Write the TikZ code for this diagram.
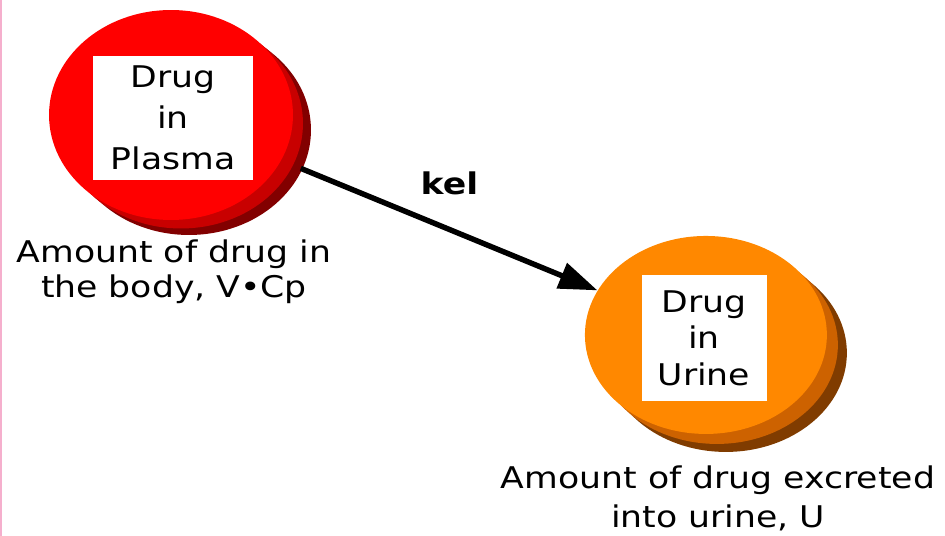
\documentclass[tikz,border=0pt]{standalone}
\usepackage{fontspec}
\newfontfamily\lblfont[FakeStretch=1.16]{DejaVu Sans}
\usetikzlibrary{shapes.geometric, positioning, arrows.meta, shadows}

\definecolor{plasmared}{RGB}{255,0,0}
\definecolor{plasmamid}{RGB}{200,0,0}
\definecolor{plasmadark}{RGB}{130,0,0}
\definecolor{urineorange}{RGB}{255,136,0}
\definecolor{urinemid}{RGB}{205,98,0}
\definecolor{urinedark}{RGB}{128,60,0}
\definecolor{edgepink}{RGB}{245,175,205}

\begin{document}
\begin{tikzpicture}[x=0.02cm, y=-0.02cm,
    font=\lblfont\fontsize{17}{20}\selectfont,
    disc/.style={ellipse, inner sep=0pt},
    textbox/.style={fill=white, align=center, inner sep=0pt},
    caption/.style={align=center, inner sep=0pt, anchor=north}]
    \useasboundingbox (0,0) rectangle (945,536);
    \draw[edgepink, line width=1.2pt] (1,0) -- (1,536);

    \node[disc, fill=plasmared, minimum width=4.88cm, minimum height=4.2cm,
        drop shadow={shadow xshift=.36cm, shadow yshift=-.3cm, fill=plasmadark, opacity=1},
        drop shadow={shadow xshift=.2cm, shadow yshift=-.17cm, fill=plasmamid, opacity=1}]
        (plasma) at (171,115) {};
    \node[disc, fill=urineorange, minimum width=4.84cm, minimum height=3.96cm,
        drop shadow={shadow xshift=.4cm, shadow yshift=-.36cm, fill=urinedark, opacity=1},
        drop shadow={shadow xshift=.22cm, shadow yshift=-.2cm, fill=urinemid, opacity=1},
        on grid, below right=4.4cm and 10.7cm of plasma] (urine) {};

    \node[textbox, minimum width=3.2cm, minimum height=2.48cm,
        font=\lblfont\fontsize{17}{23.5}\selectfont]
        (plasmabox) at (173,118) {Drug\\in\\Plasma};
    \node[textbox, minimum width=2.5cm, minimum height=2.54cm,
        font=\lblfont\fontsize{17}{20.7}\selectfont]
        (urinebox) at (704,338) {Drug\\in\\Urine};

    \node[caption] (plasmacap) at (174,239) {Amount of drug in\\the body, V•Cp};
    \node[caption, font=\lblfont\fontsize{17}{22.7}\selectfont]
        (urinecap) at (718,465) {Amount of drug excreted\\into urine, U};

    \draw[-{Triangle[length=22pt, width=15pt]}, line width=3.1pt, shorten <=0.42cm]
        (plasma) -- (urine)
        node[midway, above=0.55cm, xshift=0.2cm, inner sep=0pt,
            font=\lblfont\bfseries\fontsize{17}{20}\selectfont] (rate) {kel};
\end{tikzpicture}
\end{document}
